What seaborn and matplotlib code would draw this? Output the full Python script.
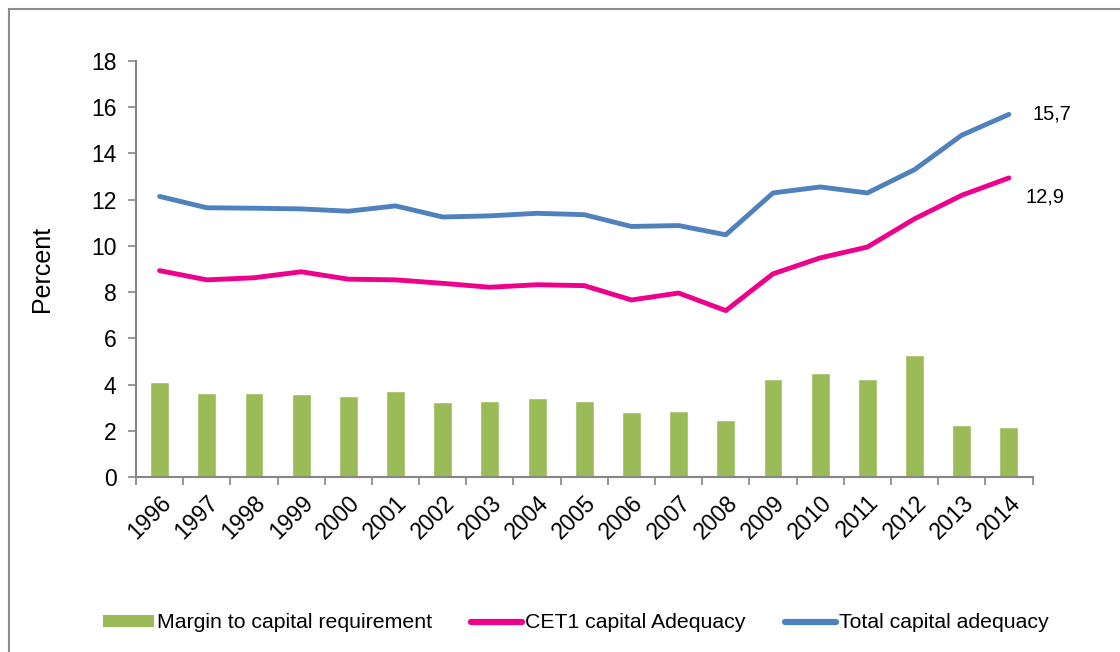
import numpy as np
import pandas as pd
import matplotlib
matplotlib.use("Agg")
import matplotlib.pyplot as plt
import seaborn as sns
from matplotlib.patches import Patch, Rectangle
from matplotlib.lines import Line2D

# data
years = [str(y) for y in range(1996, 2015)]
margin = [4.12, 3.64, 3.62, 3.59, 3.49, 3.71, 3.25, 3.30, 3.43, 3.31,
          2.81, 2.87, 2.46, 4.24, 4.50, 4.24, 5.28, 2.24, 2.17]
cet1 = [8.93, 8.53, 8.62, 8.88, 8.56, 8.53, 8.38, 8.21, 8.32, 8.28,
        7.66, 7.96, 7.20, 8.79, 9.48, 9.95, 11.17, 12.19, 12.94]
total = [12.14, 11.65, 11.63, 11.60, 11.50, 11.73, 11.25, 11.30, 11.41, 11.35,
         10.84, 10.88, 10.48, 12.29, 12.55, 12.29, 13.30, 14.79, 15.69]
end_labels = ["15,7", "12,9"]
y_ticks = list(range(0, 20, 2))

GREEN = "#9BBB59"
PINK = "#EC008C"
BLUE = "#4F81BD"
GREY = "#868686"

sns.set_style("white")
plt.rcParams["font.family"] = ["Liberation Sans", "DejaVu Sans"]
plt.rcParams["text.color"] = "black"
plt.rcParams["axes.labelcolor"] = "black"
plt.rcParams["xtick.color"] = "black"
plt.rcParams["ytick.color"] = "black"

df = pd.DataFrame({"year": years, "pos": np.arange(len(years)),
                   "margin": margin, "cet1": cet1, "total": total})

fig = plt.figure(figsize=(11.2, 6.52), dpi=100)
ax = fig.add_axes([136 / 1120, 1 - 477 / 652, (1032.5 - 136) / 1120, (477 - 61) / 652])

# outer chart frame (only top and left edges visible in the crop)
fig.patches.append(Rectangle((9 / 1120, -0.5), 2.0, 1.5 - 9 / 652,
                             transform=fig.transFigure, fill=False,
                             edgecolor="#8C8C8C", linewidth=1.5, zorder=0))

sns.barplot(data=df, x="pos", y="margin", color=GREEN, width=0.4,
            saturation=1, ax=ax, native_scale=True, zorder=2)
sns.lineplot(data=df, x="pos", y="cet1", color=PINK, linewidth=3.5, ax=ax,
             solid_capstyle="round", zorder=3)
sns.lineplot(data=df, x="pos", y="total", color=BLUE, linewidth=3.5, ax=ax,
             solid_capstyle="round", zorder=3)

ax.set_xlim(-0.5, len(years) - 0.5)
ax.set_ylim(0, 18)
ax.set_yticks(y_ticks)
ax.set_yticklabels([str(t) for t in y_ticks], fontsize=16.5)
ax.set_xticks(df["pos"])
ax.set_xticklabels(years, fontsize=16.5, rotation=45, ha="right",
                   rotation_mode="anchor")
ax.set_xticks(np.arange(-0.5, len(years)), minor=True)
ax.tick_params(axis="x", which="major", length=0, pad=10)
ax.tick_params(axis="x", which="minor", length=6, color=GREY, width=1.2,
               direction="out", bottom=True)
ax.tick_params(axis="y", length=6, color=GREY, width=1.2, direction="out",
               left=True, pad=8)
ax.set_xlabel("")
ax.set_ylabel("Percent", fontsize=18, labelpad=27)

for side in ["top", "right"]:
    ax.spines[side].set_visible(False)
for side in ["left", "bottom"]:
    ax.spines[side].set_color(GREY)
    ax.spines[side].set_linewidth(1.5)

last = len(years) - 1
ax.annotate(end_labels[0], (last, total[-1]), xytext=(17, 0),
            textcoords="offset points", va="center", ha="left", fontsize=14.5)
ax.annotate(end_labels[1], (last, cet1[-1]), xytext=(12, -14),
            textcoords="offset points", va="center", ha="left", fontsize=14.5)

handles = [Patch(facecolor=GREEN, edgecolor="none"),
           Line2D([], [], color=PINK, linewidth=4.5),
           Line2D([], [], color=BLUE, linewidth=4.5)]
names = ["Margin to capital requirement", "CET1 capital Adequacy",
         "Total capital adequacy"]
fig.legend(handles, names, loc="center", bbox_to_anchor=(0.514, 1 - 623 / 652),
           ncol=3, frameon=False, fontsize=15.3, handlelength=2.4,
           handleheight=0.5, handletextpad=0.15, columnspacing=1.85)

fig.savefig("out.png", dpi=100)
